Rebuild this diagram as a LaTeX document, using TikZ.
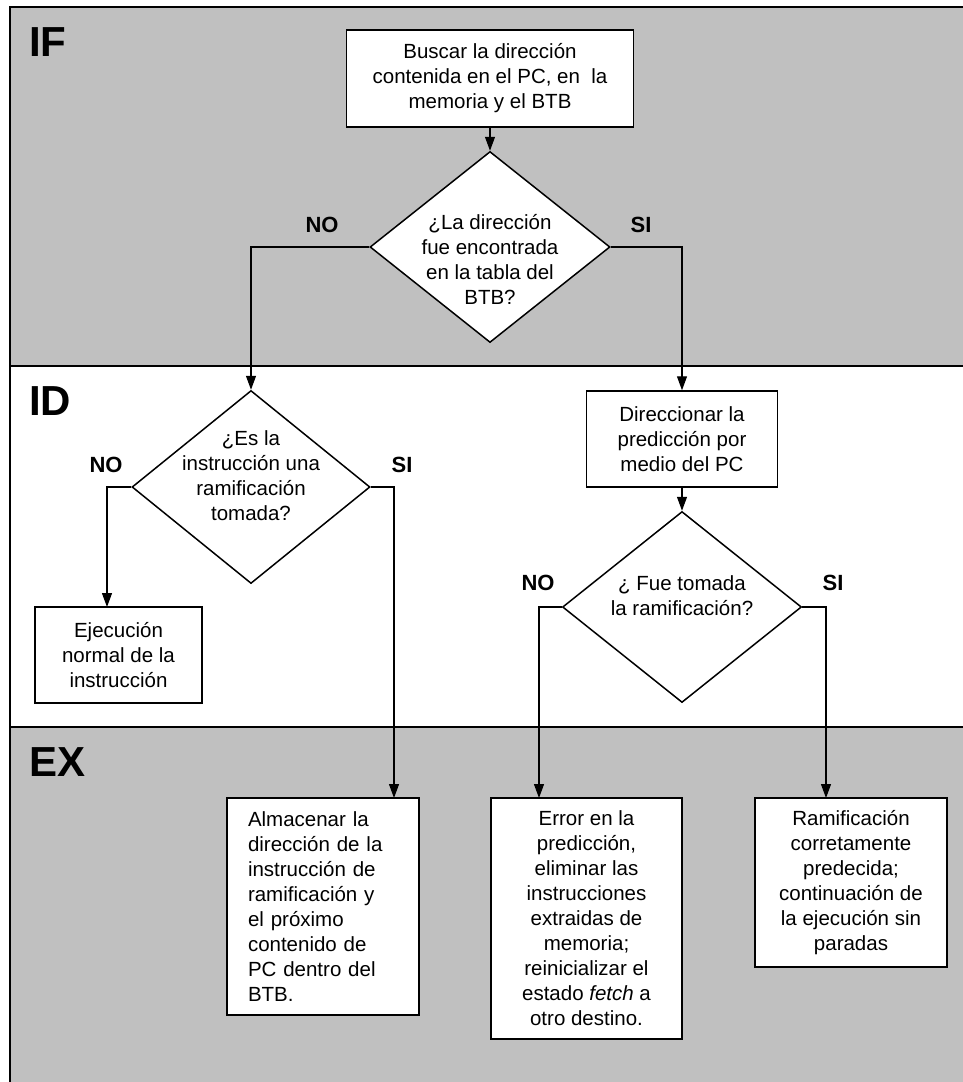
\documentclass[tikz,border=0pt]{standalone}
\usepackage{fontspec}
\setmainfont{Liberation Sans}
\usetikzlibrary{shapes.geometric,arrows.meta}
\definecolor{bandgray}{HTML}{C0C0C0}
\begin{document}
\begin{tikzpicture}[x=1pt,y=-1pt,
  every node/.style={font=\fontsize{20.5}{25}\selectfont},
  stepbox/.style={draw, line width=1.5pt, fill=white, rectangle, inner sep=0pt, align=center},
  decision/.style={draw, line width=1.5pt, fill=white, diamond, inner sep=0pt},
  qtext/.style={align=center, inner sep=0pt},
  answer/.style={font=\fontsize{22}{26}\selectfont\bfseries, inner sep=0pt},
  stage/.style={font=\fontsize{42}{48}\selectfont\bfseries, inner sep=0pt, anchor=base west},
  flow/.style={line width=1.2pt, -{Triangle[length=14pt,width=10pt]}}
]
\useasboundingbox (0,0) rectangle (962,1082);

% pipeline stage bands
\fill[bandgray] (10,7) rectangle (980,1095);
\fill[white] (10,366) rectangle (980,727);
\draw[line width=2pt] (980,7) -- (10,7) -- (10,1095);
\draw[line width=2pt] (10,366) -- (980,366);
\draw[line width=2pt] (10,727) -- (980,727);

\node[stage] (sIF) at (29,56) {IF};
\node[stage] (sID) at (29,415) {ID};
\node[stage] (sEX) at (29,776) {EX};

% IF stage
\node[stepbox, minimum width=287, minimum height=97] (fetch) at (490,78.5)
  {Buscar la dirección\\contenida en el PC, en\space\space la\\memoria y el BTB};
\node[decision, minimum width=240, minimum height=191] (inbtb) at (490,247) {};
\node[qtext] (inbtbq) at (490,259)
  {¿La dirección\\fue encontrada\\en la tabla del\\BTB?};
\node[answer] (no1) at (322,225) {NO};
\node[answer] (si1) at (641,225) {SI};

% ID stage
\node[decision, minimum width=238, minimum height=193] (taken) at (251,487) {};
\node[qtext] (takenq) at (251,476)
  {¿Es la\\instrucción una\\ramificación\\tomada?};
\node[answer] (no2) at (106,465) {NO};
\node[answer] (si2) at (402,465) {SI};

\node[stepbox, minimum width=167, minimum height=96] (normal) at (118.5,655)
  {Ejecución\\normal de la\\instrucción};

\node[stepbox, minimum width=191, minimum height=96] (predict) at (682,439)
  {Direccionar la\\predicción por\\medio del PC};
\node[decision, minimum width=239, minimum height=191] (wastaken) at (682,607) {};
\node[qtext] (wastakenq) at (682,596) {¿ Fue tomada\\la ramificación?};
\node[answer] (no3) at (538,583) {NO};
\node[answer] (si3) at (833,583) {SI};

% EX stage
\node[stepbox, align=left, text width=150, inner xsep=21, minimum height=217] (store) at (323,906.5)
  {Almacenar la\\dirección de la\\instrucción de\\ramificación y\\el próximo\\contenido de\\PC dentro del\\BTB.};
\node[stepbox, minimum width=191, minimum height=241] (mispred) at (586.5,918.5)
  {Error en la\\predicción,\\eliminar las\\instrucciones\\extraidas de\\memoria;\\reinicializar el\\estado \textit{fetch} a\\otro destino.};
\node[stepbox, minimum width=192, minimum height=169] (correct) at (851,882.5)
  {Ramificación\\corretamente\\predecida;\\continuación de\\la ejecución sin\\paradas};

% arrow entry points on box tops
\coordinate (normalin) at (107,607);
\coordinate (storein) at (394,798);
\coordinate (mispredin) at (539,798);
\coordinate (correctin) at (826,798);

% connectors
\draw[flow] (fetch.south) -- (inbtb.north);
\draw[flow] (inbtb.west) -| (taken.north);
\draw[flow] (inbtb.east) -| (predict.north);
\draw[flow] (predict.south) -- (wastaken.north);
\draw[flow] (taken.west) -| (normalin);
\draw[flow] (taken.east) -| (storein);
\draw[flow] (wastaken.west) -| (mispredin);
\draw[flow] (wastaken.east) -| (correctin);
\end{tikzpicture}
\end{document}
